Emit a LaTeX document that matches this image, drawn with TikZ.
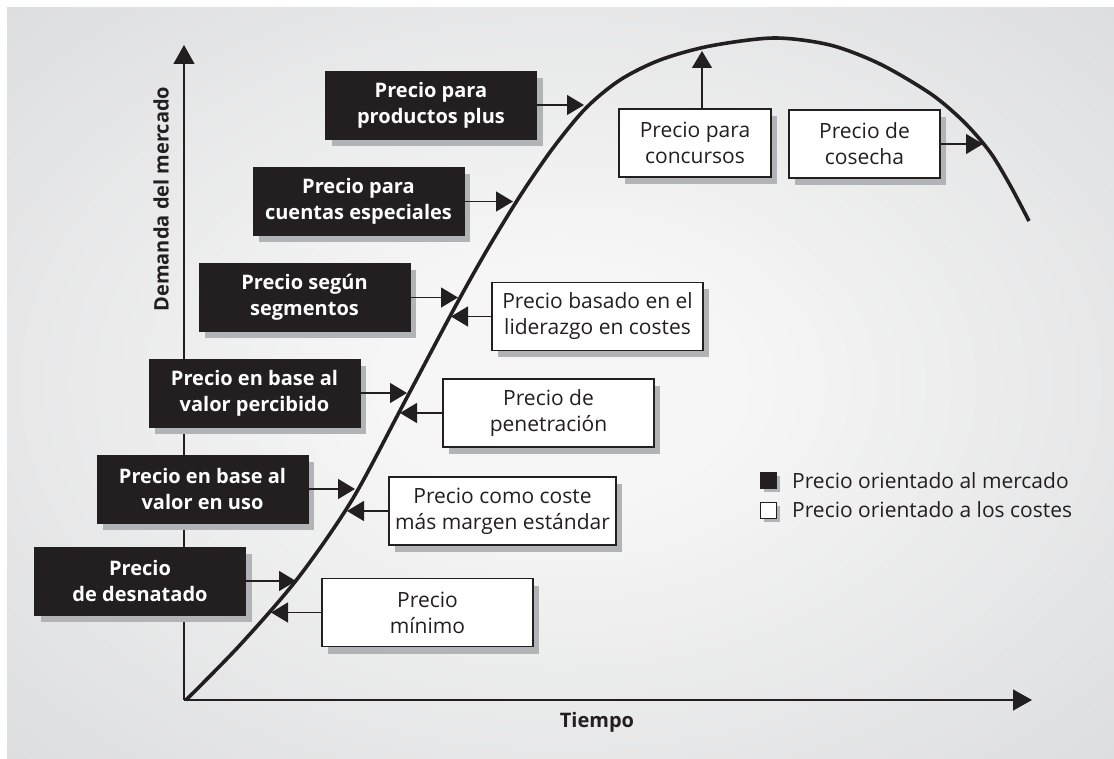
\documentclass[tikz,border=0pt]{standalone}
\usepackage{fontspec}
\setmainfont{Open Sans}
\usetikzlibrary{arrows.meta,shadows}
\definecolor{ink}{HTML}{231F20}
\definecolor{bgin}{HTML}{F6F6F6}
\definecolor{bgout}{HTML}{D7D8DA}
\definecolor{shadowgray}{HTML}{B2B3B7}
\pgfdeclareradialshading{bgshade}{\pgfpoint{0bp}{0bp}}{color(0bp)=(bgin); color(8bp)=(bgin); color(42bp)=(bgout); color(75bp)=(bgout)}
\tikzset{
  boxshadow/.style={drop shadow={shadow xshift=6pt, shadow yshift=-7pt, fill=shadowgray, opacity=1}},
  mkt/.style={fill=ink, draw=ink, text=white, font=\bfseries\fontsize{20}{26}\selectfont,
    minimum width=211pt, minimum height=68pt, align=center, inner sep=0pt, boxshadow},
  cost/.style={fill=white, draw=ink, line width=1.3pt, text=ink, font=\fontsize{21}{26}\selectfont,
    minimum width=211pt, minimum height=68pt, align=center, inner sep=0pt, boxshadow},
  conn/.style={draw=ink, line width=1.5pt, -{Triangle[length=17pt,width=20pt]}},
  axisline/.style={draw=ink, line width=1.3pt, -{Triangle[length=19pt,width=21pt]}},
  curveline/.style={draw=ink, line width=3.6pt},
  legsq/.style={draw=ink, line width=1.3pt, minimum size=16pt, inner sep=0pt,
    drop shadow={shadow xshift=3pt, shadow yshift=-3pt, fill=shadowgray, opacity=1}},
  legtext/.style={anchor=base west, text=ink, font=\fontsize{21}{26}\selectfont, inner sep=0pt},
  axislabel/.style={text=ink, font=\bfseries\fontsize{20}{24}\selectfont, inner sep=0pt}
}
\begin{document}
\begin{tikzpicture}[x=1pt,y=-1pt]
\useasboundingbox (0,0) rectangle (1114,759);
\fill[white] (0,0) rectangle (1114,759);
\shade[shading=bgshade] (7,8) rectangle (1114,759);

% axes
\coordinate (O) at (184,700);
\coordinate (ytip) at (184,45);
\coordinate (xtip) at (1032,700);
\draw[axisline] (O) -- (ytip);
\draw[axisline] (O) -- (xtip);
\node[axislabel, rotate=90] (ylab) at (161,199) {Demanda del mercado};
\node[axislabel] (xlab) at (597,722) {Tiempo};

% curve
\draw[curveline, line cap=butt] plot[smooth, tension=0.5] coordinates {
  (186,700) (240,645) (298,578) (352,500) (404,403) (455,307) (487,250)
  (520,196) (553,148) (586,108) (620,80) (660,60) (710,46) (774,38)
  (830,45) (880,64) (931,94) (964,122) (990,152) (1010,185) (1029,221)};

% tips on curve
\coordinate (tPP) at (584,105);
\coordinate (tCE) at (513,201);
\coordinate (tSS) at (458,297);
\coordinate (tVP) at (407,392);
\coordinate (tVU) at (355,490);
\coordinate (tDE) at (296,578);
\coordinate (tLI) at (451,316);
\coordinate (tPE) at (400,413);
\coordinate (tCM) at (347,511);
\coordinate (tMI) at (271,612);
\coordinate (tCO) at (983,144);
\coordinate (tCC) at (702,51);

% market oriented boxes
\node[mkt] (pp) at (431,105) {Precio para\\productos plus};
\node[mkt] (ce) at (358.5,201.5) {Precio para\\cuentas especiales};
\node[mkt] (ss) at (304.5,297.5) {Precio según\\segmentos};
\node[mkt] (vp) at (254.5,393) {Precio en base al\\valor percibido};
\node[mkt] (vu) at (202.5,489) {Precio en base al\\valor en uso};
\node[mkt] (de) at (140,581) {Precio\\de desnatado};

% cost oriented boxes
\node[cost, minimum width=152pt] (cc) at (695,143) {Precio para\\concursos};
\node[cost, minimum width=151pt] (co) at (864.5,144) {Precio de\\cosecha};
\node[cost] (li) at (597.5,316.5) {Precio basado en el\\liderazgo en costes};
\node[cost] (pe) at (548.5,413) {Precio de\\penetración};
\node[cost, minimum width=227pt] (cm) at (502.5,511) {Precio como coste\\más margen estándar};
\node[cost] (mi) at (427.5,612.5) {Precio\\mínimo};

% connectors
\draw[conn] (pp.east) -- (pp.east -| tPP);
\draw[conn] (ce.east) -- (ce.east -| tCE);
\draw[conn] (ss.east) -- (ss.east -| tSS);
\draw[conn] (vp.east) -- (vp.east -| tVP);
\draw[conn] (vu.east) -- (vu.east -| tVU);
\draw[conn] (de.east) -- (de.east -| tDE);
\draw[conn] (li.west) -- (li.west -| tLI);
\draw[conn] (pe.west) -- (pe.west -| tPE);
\draw[conn] (cm.west) -- (cm.west -| tCM);
\draw[conn] (mi.west) -- (mi.west -| tMI);
\draw[conn] (co.east) -- (co.east -| tCO);
\draw[conn] (cc.north -| tCC) -- (tCC);

% legend
\node[legsq, fill=ink] (lm) at (768.5,480.5) {};
\node[legsq, fill=white] (lc) at (768.5,510.5) {};
\node[legtext] (lmt) at (792,488) {Precio orientado al mercado};
\node[legtext] (lct) at (792,517) {Precio orientado a los costes};
\end{tikzpicture}
\end{document}
